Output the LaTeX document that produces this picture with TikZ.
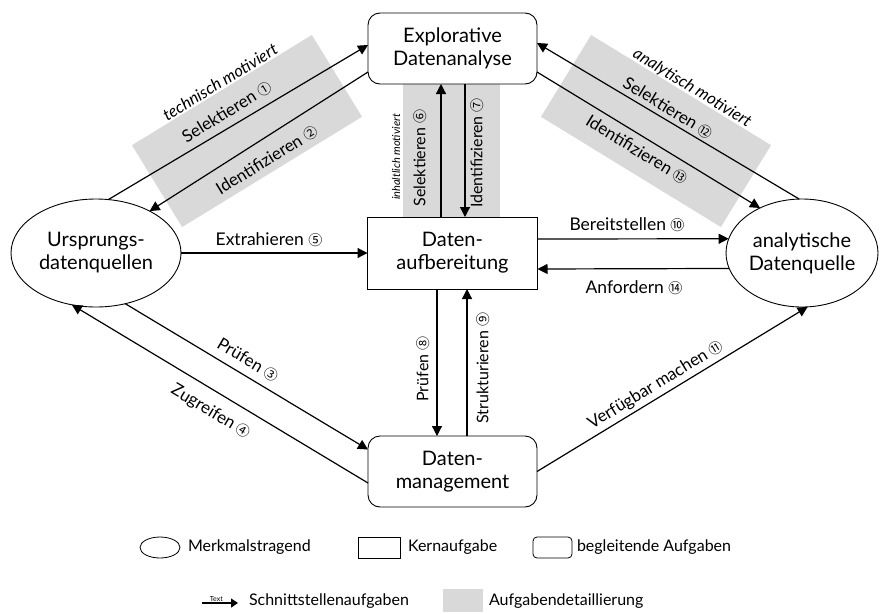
\documentclass[tikz,border=0pt]{standalone}
\usepackage{fontspec}
\setmainfont{Lato}
\newfontfamily\circfont{Noto Sans CJK SC}
\usetikzlibrary{shapes.geometric,arrows.meta}
\definecolor{bandgray}{RGB}{217,217,217}
% circled step numbers
\newcommand\cnum[1]{{\circfont\fontsize{14}{14}\selectfont #1}}

\begin{document}
\begin{tikzpicture}[x=1pt,y=-1pt,
  every node/.style={outer sep=0pt},
  box/.style={draw,fill=white,line width=0.9pt,minimum width=169pt,minimum height=71pt,
    align=center,inner sep=0pt,font=\fontsize{20}{23}\selectfont},
  rbox/.style={box,rounded corners=12pt},
  src/.style={ellipse,draw,fill=white,line width=0.9pt,align=center,inner ysep=0pt,
    inner xsep=-12pt,font=\fontsize{20}{23}\selectfont},
  conn/.style={line width=1.2pt,-{Triangle[length=10pt,width=10pt]}},
  lbl/.style={inner sep=0pt,font=\fontsize{17}{20}\selectfont},
  hlbl/.style={inner sep=0pt,font=\fontsize{17.5}{20}\selectfont},
  vlbl/.style={inner sep=0pt,rotate=90,font=\fontsize{16}{19}\selectfont},
  ilbl/.style={inner sep=0pt,font=\fontsize{16.5}{19}\selectfont\itshape},
  band/.style={fill=bandgray,draw=none,inner sep=0pt},
  lgtxt/.style={anchor=west,inner sep=0pt,font=\fontsize{16}{19}\selectfont},
]
\useasboundingbox (0,0) rectangle (882,613);

% task detail bands
\node[band,minimum width=211pt,minimum height=96pt,rotate=31.5] (bandL) at (247,131) {};
\node[band,minimum width=211pt,minimum height=96pt,rotate=-31.5] (bandR) at (656,131) {};
\node[band,minimum width=97pt,minimum height=133pt] (bandM) at (451.5,150.5) {};

% main nodes
\node[rbox] (ex) at (452.5,48.5) {Explorative\\Datenanalyse};
\node[box,minimum width=170pt,minimum height=72pt] (ab) at (452.5,253) {Daten-\\aufbereitung};
\node[rbox] (dm) at (452.5,471.5) {Daten-\\management};
\node[src,minimum width=170pt,minimum height=108pt] (us) at (96,253) {Ursprungs-\\datenquellen};
\node[src,minimum width=152pt,minimum height=108pt] (an) at (802,253) {analytische\\Datenquelle};

% interface tasks
\draw[conn] (us.77) -- ([yshift=3.5pt]ex.west);
\draw[conn] ([yshift=-23.5pt]ex.west) -- (us.38);
\draw[conn] (us.-60) -- ([yshift=22pt]dm.west);
\draw[conn] ([yshift=-11.5pt]dm.west) -- (us.245);
\draw[conn] (us.east) -- (ab.west);
\draw[conn] ([yshift=14pt]ab.east) -- (an.169);
\draw[conn] (an.192) -- ([yshift=-16pt]ab.east);
\draw[conn] (dm.east) -- (an.-84);
\draw[conn] (an.93) -- ([yshift=5.5pt]ex.east);
\draw[conn] ([yshift=-23.5pt]ex.east) -- (an.133);
\draw[conn] ([xshift=-11.5pt]ab.north) -- ([xshift=-11.5pt]ex.south);
\draw[conn] ([xshift=12.5pt]ex.south) -- ([xshift=12.5pt]ab.north);
\draw[conn] ([xshift=-15.5pt]ab.south) -- ([xshift=-15.5pt]dm.north);
\draw[conn] ([xshift=14.5pt]dm.north) -- ([xshift=14.5pt]ab.south);

% labels
\node[ilbl,rotate=31.5] (tm) at (220,82) {technisch motiviert};
\node[lbl,rotate=31.5] (l1) at (227,112) {Selektieren \cnum{①}};
\node[lbl,rotate=31.5] (l2) at (267,160) {Identifizieren \cnum{②}};
\node[lbl,rotate=-30.6] (l3) at (248,360) {Prüfen \cnum{③}};
\node[lbl,rotate=-31] (l4) at (211,412) {Zugreifen \cnum{④}};
\node[hlbl] (l5) at (269,240) {Extrahieren \cnum{⑤}};
\node[inner sep=0pt,rotate=90,font=\fontsize{11}{12}\selectfont\itshape] (im) at (396,157) {inhaltlich motiviert};
\node[vlbl] (l6) at (420,158) {Selektieren \cnum{⑥}};
\node[vlbl] (l7) at (477,153) {Identifizieren \cnum{⑦}};
\node[vlbl] (l8) at (423,369) {Prüfen \cnum{⑧}};
\node[vlbl] (l9) at (483,368) {Strukturieren \cnum{⑨}};
\node[hlbl] (l10) at (627,225) {Bereitstellen \cnum{⑩}};
\node[lbl,rotate=31.3] (l11) at (656,385) {Verfügbar machen \cnum{⑪}};
\node[ilbl,rotate=-31.5] (am) at (692,88) {analytisch motiviert};
\node[lbl,rotate=-31.5] (l12) at (668,108) {Selektieren \cnum{⑫}};
\node[lbl,rotate=-31.5] (l13) at (637,150) {Identifizieren \cnum{⑬}};
\node[hlbl] (l14) at (634,288) {Anfordern \cnum{⑭}};

% legend
\node[ellipse,draw,line width=0.8pt,minimum width=40pt,minimum height=21pt,inner sep=0pt] (lgE) at (160,547.5) {};
\node[lgtxt] (lgEt) at (188,547.5) {Merkmalstragend};
\node[draw,line width=0.8pt,minimum width=42pt,minimum height=21pt,inner sep=0pt] (lgK) at (379,547.5) {};
\node[lgtxt] (lgKt) at (408,547.5) {Kernaufgabe};
\node[draw,line width=0.8pt,rounded corners=4pt,minimum width=39pt,minimum height=21pt,inner sep=0pt] (lgB) at (552.5,547.5) {};
\node[lgtxt] (lgBt) at (577,547.5) {begleitende Aufgaben};
\coordinate (lgA0) at (202,603);
\coordinate (lgA1) at (238,603);
\draw[line width=1.2pt,-{Triangle[length=7pt,width=9pt]}] (lgA0) -- node[pos=0.4,above=1pt,inner sep=0pt,font=\fontsize{7}{8}\selectfont] {Text} (lgA1);
\node[lgtxt] (lgSt) at (249,601) {Schnittstellenaufgaben};
\node[band,minimum width=40pt,minimum height=23pt] (lgD) at (463,600.5) {};
\node[lgtxt] (lgDt) at (489,601) {Aufgabendetaillierung};
\end{tikzpicture}
\end{document}
